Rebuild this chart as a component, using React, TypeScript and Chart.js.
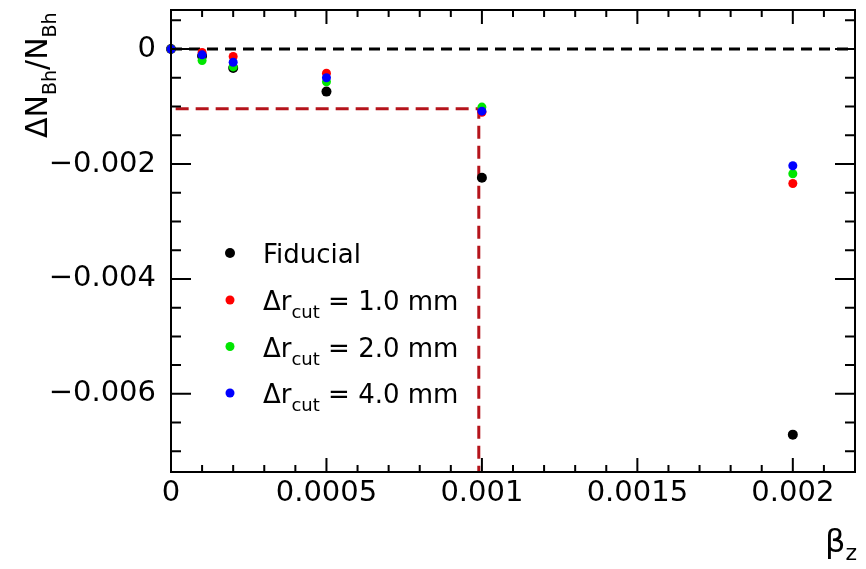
import React, { useEffect, useRef } from 'react';
import { Chart, registerables } from 'chart.js';

Chart.register(...registerables);

// ---- data ----
const betaZ = [0, 0.0001, 0.0002, 0.0005, 0.001, 0.002];
const fiducial = [0, -0.00012, -0.00033, -0.00074, -0.00224, -0.00671];
const cut1mm = [0, -0.00006, -0.00013, -0.00042, -0.0011, -0.00234];
const cut2mm = [0, -0.0002, -0.00031, -0.00057, -0.00101, -0.00217];
const cut4mm = [0, -0.0001, -0.00023, -0.0005, -0.00108, -0.00203];

const seriesNames = ['Fiducial', '1.0', '2.0', '4.0'];
const seriesColors = ['#000000', '#ff0000', '#00e600', '#0000ff'];

const refLineX = [0.000015, 0.00099, 0.00099];
const refLineY = [-0.00104, -0.00104, -0.00736];
const zeroLineX = [0, 0.0022];
const zeroLineY = [0, 0];

const xTickLabels = ['0', '0.0005', '0.001', '0.0015', '0.002'];
const yTickLabels = ['0', '\u22120.002', '\u22120.004', '\u22120.006'];

const X_MIN = 0;
const X_MAX = 0.0022;
const Y_MIN = -0.00736;
const Y_MAX = 0.00068;
const X_MAJOR = 0.0005;
const X_MINOR = 0.0001;
const Y_MAJOR = 0.002;
const Y_MINOR = 0.0005;

const FONT = "'DejaVu Sans'";

const toPts = (xs: number[], ys: number[]) => xs.map((x, i) => ({ x, y: ys[i] }));

type Part = { t: string; size: number; dy: number };

function drawParts(ctx: CanvasRenderingContext2D, x: number, y: number, parts: Part[]) {
  let cx = x;
  for (const p of parts) {
    ctx.font = `${p.size}px ${FONT}`;
    ctx.fillText(p.t, cx, y + p.dy);
    cx += ctx.measureText(p.t).width;
  }
}

const decorPlugin = {
  id: 'decor',
  afterDraw(chart: any) {
    const ctx: CanvasRenderingContext2D = chart.ctx;
    const { left, right, top, bottom } = chart.chartArea;
    const xs = chart.scales.x;
    const ys = chart.scales.y;
    ctx.save();
    ctx.strokeStyle = '#000';
    ctx.fillStyle = '#000';
    ctx.lineWidth = 2;
    // frame
    ctx.strokeRect(left, top, right - left, bottom - top);
    // x ticks (inward, bottom and top)
    ctx.beginPath();
    const nx = Math.round((X_MAX - X_MIN) / X_MINOR);
    for (let i = 1; i <= nx; i++) {
      const v = X_MIN + i * X_MINOR;
      const px = xs.getPixelForValue(v);
      if (px > right - 1) continue;
      const major = i % Math.round(X_MAJOR / X_MINOR) === 0;
      const len = major ? 14 : 7;
      ctx.moveTo(px, bottom);
      ctx.lineTo(px, bottom - len);
      ctx.moveTo(px, top);
      ctx.lineTo(px, top + len);
    }
    // y ticks (inward, left and right)
    const kMin = Math.ceil(Y_MIN / Y_MINOR);
    const kMax = Math.floor(Y_MAX / Y_MINOR);
    for (let k = kMin; k <= kMax; k++) {
      const v = k * Y_MINOR;
      const py = ys.getPixelForValue(v);
      const major = k % Math.round(Y_MAJOR / Y_MINOR) === 0;
      const len = major ? 20 : 10;
      ctx.moveTo(left, py);
      ctx.lineTo(left + len, py);
      ctx.moveTo(right, py);
      ctx.lineTo(right - len, py);
    }
    ctx.stroke();

    // y-axis title
    ctx.save();
    ctx.translate(47, 138);
    ctx.rotate(-Math.PI / 2);
    ctx.textBaseline = 'alphabetic';
    ctx.textAlign = 'left';
    drawParts(ctx, 0, 0, [
      { t: '\u0394N', size: 30, dy: 0 },
      { t: 'Bh', size: 19, dy: 9 },
      { t: '/N', size: 30, dy: 0 },
      { t: 'Bh', size: 19, dy: 9 },
    ]);
    ctx.restore();

    // x-axis title
    ctx.textBaseline = 'alphabetic';
    ctx.textAlign = 'left';
    drawParts(ctx, 825, 552, [
      { t: '\u03B2', size: 32, dy: 0 },
      { t: 'z', size: 22, dy: 8 },
    ]);

    // legend
    const rowY = [253, 300, 346.5, 393];
    rowY.forEach((ry, i) => {
      ctx.fillStyle = seriesColors[i];
      ctx.beginPath();
      ctx.arc(230, ry, i === 0 ? 5 : 4.5, 0, Math.PI * 2);
      ctx.fill();
      ctx.fillStyle = '#000';
      if (i === 0) {
        drawParts(ctx, 263, ry + 9.5, [{ t: seriesNames[0], size: 26, dy: 0 }]);
      } else {
        drawParts(ctx, 263, ry + 10, [
          { t: '\u0394r', size: 26, dy: 0 },
          { t: 'cut', size: 18, dy: 8 },
          { t: ` = ${seriesNames[i]} mm`, size: 26, dy: 0 },
        ]);
      }
    });
    ctx.restore();
  },
};

export default function App() {
  const ref = useRef<HTMLCanvasElement | null>(null);

  useEffect(() => {
    if (!ref.current) return;
    const pointDs = (label: string, ys: number[], color: string, r: number) => ({
      type: 'scatter' as const,
      label,
      data: toPts(betaZ, ys),
      backgroundColor: color,
      borderColor: color,
      borderWidth: 0,
      pointRadius: r,
      showLine: false,
      clip: false as any,
    });
    const chart = new Chart(ref.current, {
      type: 'scatter',
      data: {
        datasets: [
          pointDs('cut4', cut4mm, seriesColors[3], 4.5),
          pointDs('cut2', cut2mm, seriesColors[2], 4.5),
          pointDs('cut1', cut1mm, seriesColors[1], 4.5),
          pointDs('fiducial', fiducial, seriesColors[0], 5),
          {
            type: 'line' as const,
            label: 'ref',
            data: toPts(refLineX, refLineY),
            borderColor: '#b5141b',
            borderWidth: 3,
            borderDash: [13, 7],
            pointRadius: 0,
            showLine: true,
            fill: false,
            tension: 0,
          } as any,
          {
            type: 'line' as const,
            label: 'zero',
            data: toPts(zeroLineX, zeroLineY),
            borderColor: '#000000',
            borderWidth: 3,
            borderDash: [11, 7],
            pointRadius: 0,
            showLine: true,
            fill: false,
            tension: 0,
          } as any,
        ],
      },
      options: {
        animation: false,
        responsive: false,
        maintainAspectRatio: false,
        devicePixelRatio: 1,
        layout: { padding: { top: 10, right: 11, left: 0, bottom: 0 } },
        plugins: { legend: { display: false }, tooltip: { enabled: false } },
        scales: {
          x: {
            type: 'linear',
            min: X_MIN,
            max: X_MAX,
            afterFit: (s: any) => {
              s.height = 97;
              s.paddingLeft = 0;
              s.paddingRight = 0;
            },
            grid: { display: false, drawTicks: false },
            border: { display: false },
            ticks: {
              stepSize: X_MAJOR,
              includeBounds: false,
              autoSkip: false,
              maxRotation: 0,
              padding: 4,
              color: '#000',
              font: { family: 'DejaVu Sans', size: 29 },
              callback: (v: any) => xTickLabels[Math.round(Number(v) / X_MAJOR)] ?? '',
            },
          },
          y: {
            type: 'linear',
            min: Y_MIN,
            max: Y_MAX,
            afterFit: (s: any) => {
              s.width = 171;
              s.paddingTop = 0;
              s.paddingBottom = 0;
            },
            grid: { display: false, drawTicks: false },
            border: { display: false },
            ticks: {
              stepSize: Y_MAJOR,
              includeBounds: false,
              autoSkip: false,
              padding: 15,
              color: '#000',
              font: { family: 'DejaVu Sans', size: 29 },
              callback: (v: any) => yTickLabels[Math.round(-Number(v) / Y_MAJOR)] ?? '',
            },
          },
        },
      } as any,
      plugins: [decorPlugin],
    });
    return () => chart.destroy();
  }, []);

  return (
    <div style={{ position: 'absolute', left: 0, top: 0, width: 866, height: 569, background: '#fff' }}>
      <canvas ref={ref} width={866} height={569} style={{ display: 'block', width: 866, height: 569 }} />
    </div>
  );
}
